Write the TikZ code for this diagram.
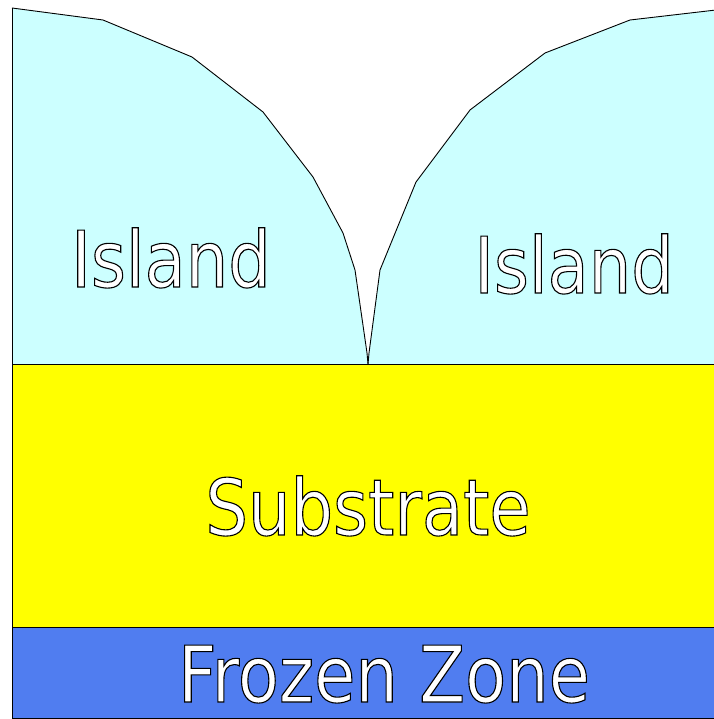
\documentclass[tikz,border=0pt]{standalone}
\usepackage{fontspec}
\newfontfamily\labfont[FakeStretch=0.86]{DejaVu Sans}
\definecolor{islandc}{RGB}{204,255,255}
\definecolor{substc}{RGB}{255,255,0}
\definecolor{frozenc}{RGB}{80,125,240}
\tikzset{
  layer/.style={draw=black, line width=0.9pt},
  curveline/.style={draw=black, line width=0.9pt, line join=round},
  lab/.style={inner sep=0pt, anchor=base, font=\labfont\fontsize{78}{80}\selectfont}
}
\newcommand{\outl}[1]{\special{pdf:literal direct q 2 Tr 1.1 w 0 0 0 RG 1 1 1 rg}#1\special{pdf:literal direct Q}}
\begin{document}
\begin{tikzpicture}[x=1pt,y=-1pt]
\useasboundingbox (0,0) rectangle (713,719);
\fill[white] (0,0) rectangle (713,719);
% frozen zone
\path[layer, fill=frozenc] (12,627) rectangle (716,718);
% substrate
\path[layer, fill=substc] (12,364) rectangle (716,627);
% left island
\fill[islandc] (12,364) -- (12,8) -- (103,20) -- (192,57) -- (263,112) -- (313,177) -- (343,233) -- (355,270) -- (367,353) -- (368,364) -- cycle;
% right island
\fill[islandc] (368,364) -- (369,353) -- (380,270) -- (416,182) -- (470,110) -- (545,53) -- (630,20) -- (716,10) -- (716,364) -- cycle;
% island outline
\draw[curveline] (12,8) -- (103,20) -- (192,57) -- (263,112) -- (313,177) -- (343,233) -- (355,270) -- (367,353) -- (368,364);
\draw[curveline] (368,364) -- (369,353) -- (380,270) -- (416,182) -- (470,110) -- (545,53) -- (630,20) -- (716,10);
\draw[layer] (12,364) -- (716,364);
\draw[layer] (12,8) -- (12,718);
% labels
\node[lab] (isl1) at (171,287) {\outl{Island}};
\node[lab] (isl2) at (574,293) {\outl{Island}};
\node[lab] (sub) at (368,535) {\outl{Substrate}};
\node[lab] (frz) at (384,702) {\outl{Frozen Zone}};
\end{tikzpicture}
\end{document}
